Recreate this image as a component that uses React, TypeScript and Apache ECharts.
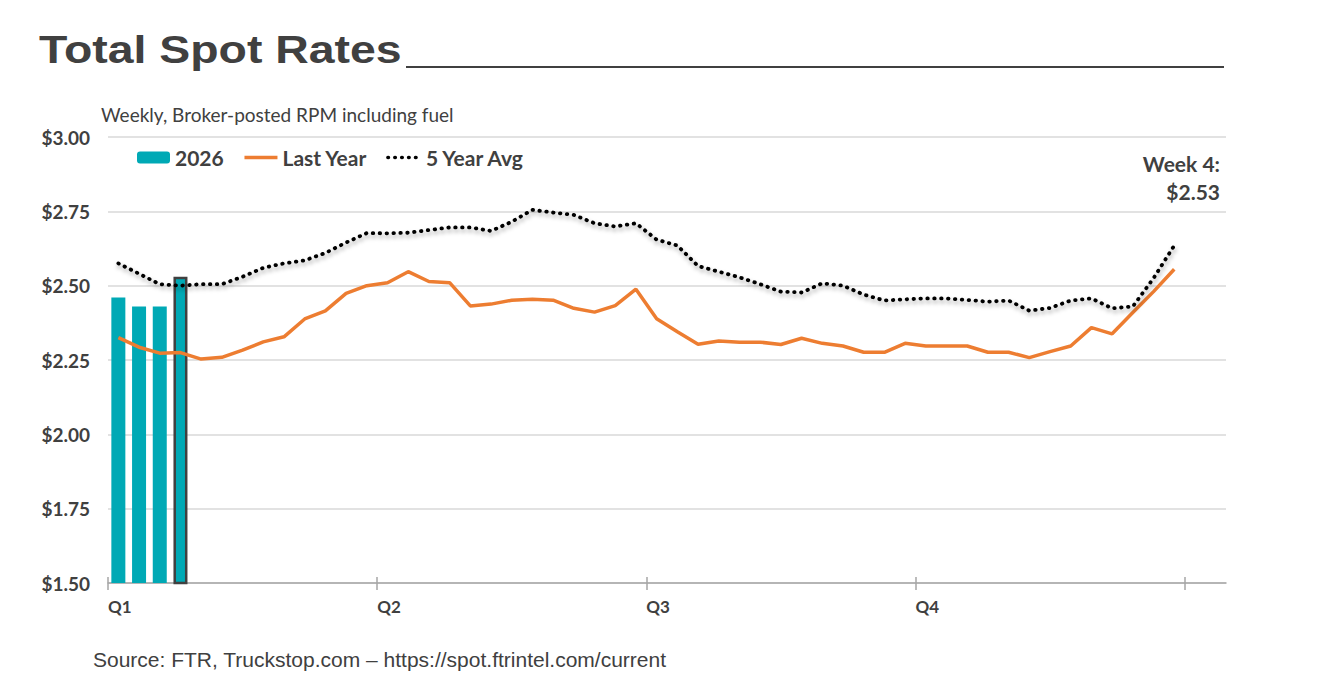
import React, { useEffect, useRef } from "react";
import * as echarts from "echarts";

// ---- data ----
const quarterLabels = ["Q1", "Q2", "Q3", "Q4"];
const quarterStarts = [0, 13, 26, 39];
const tickWeeks = [0, 13, 26, 39, 52];
const totalSlots = 54;

const current2026 = [2.46, 2.43, 2.43, 2.53];

const lastYear = [
  2.325, 2.293, 2.273, 2.275, 2.253, 2.259, 2.283, 2.311, 2.328, 2.388,
  2.415, 2.474, 2.5, 2.51, 2.547, 2.514, 2.51, 2.432, 2.438, 2.451,
  2.454, 2.451, 2.424, 2.411, 2.433, 2.488, 2.389, 2.345, 2.303, 2.314,
  2.31, 2.31, 2.302, 2.323, 2.306, 2.297, 2.276, 2.276, 2.306, 2.297,
  2.297, 2.297, 2.276, 2.276, 2.258, 2.278, 2.297, 2.359, 2.338, 2.41,
  2.48, 2.555,
];

const fiveYearAvg = [
  2.575, 2.54, 2.505, 2.5, 2.505, 2.505, 2.53, 2.56, 2.575, 2.585,
  2.61, 2.645, 2.677, 2.676, 2.678, 2.687, 2.696, 2.696, 2.684, 2.715,
  2.755, 2.746, 2.738, 2.71, 2.699, 2.71, 2.655, 2.635, 2.566, 2.547,
  2.528, 2.505, 2.48, 2.477, 2.508, 2.5, 2.47, 2.45, 2.454, 2.457,
  2.457, 2.452, 2.446, 2.45, 2.416, 2.425, 2.45, 2.457, 2.424, 2.43,
  2.525, 2.635,
];

const TEXT = "#404040";
const AXIS = "#a6a6a6";
const TEAL = "#00A9B5";
const ORANGE = "#ED7D31";
const CAL = "Lato, 'Noto Sans', sans-serif";
const DOTS = [0.5, 6.4];

const toPoints = (arr: number[]) => arr.map((v, i) => [i + 0.5, v]);

export default function App() {
  const ref = useRef<HTMLDivElement>(null);

  useEffect(() => {
    if (!ref.current) return;
    const chart = echarts.init(ref.current, undefined, { renderer: "svg" });
    const lastIdx = current2026.length - 1;

    chart.setOption({
      animation: false,
      backgroundColor: "#ffffff",
      grid: { left: 108, top: 137, width: 1118, height: 446, containLabel: false },
      legend: {
        left: 137,
        top: 147,
        padding: 0,
        itemWidth: 33,
        itemHeight: 12,
        itemGap: 19,
        data: [
          { name: "2026" },
          {
            name: "Last Year",
            itemStyle: { opacity: 0 },
            lineStyle: { color: ORANGE, width: 3.5, shadowBlur: 0, shadowColor: "transparent" },
          },
          {
            name: "5 Year Avg",
            itemStyle: { opacity: 0 },
            lineStyle: {
              color: "#000000",
              width: 3.6,
              type: DOTS,
              cap: "round",
              shadowBlur: 0,
              shadowOffsetX: 0,
              shadowOffsetY: 0,
              shadowColor: "transparent",
            },
          },
        ],
        textStyle: { color: TEXT, fontWeight: "bold", fontSize: 21, fontFamily: CAL },
      },
      xAxis: [
        {
          type: "value",
          min: 0,
          max: totalSlots,
          axisLine: { show: true, lineStyle: { color: AXIS, width: 1.5 } },
          axisTick: { show: true, customValues: tickWeeks, length: 7, lineStyle: { color: AXIS, width: 1.5 } },
          axisLabel: {
            customValues: quarterStarts,
            formatter: (v: number) => quarterLabels[quarterStarts.indexOf(v)] ?? "",
            align: "left",
            margin: 15,
            color: TEXT,
            fontWeight: "bold",
            fontSize: 17,
            fontFamily: CAL,
          },
          splitLine: { show: false },
        },
        {
          type: "value",
          min: 0,
          max: totalSlots,
          position: "top",
          offset: -446,
          axisLine: { show: false },
          axisTick: { show: true, customValues: tickWeeks, length: 6, lineStyle: { color: AXIS, width: 1.5 } },
          axisLabel: { show: false },
          splitLine: { show: false },
        },
      ],
      yAxis: {
        type: "value",
        min: 1.5,
        max: 3,
        interval: 0.25,
        axisLine: { show: false },
        axisTick: { show: false },
        axisLabel: {
          formatter: (v: number) => "$" + v.toFixed(2),
          color: TEXT,
          fontWeight: "bold",
          fontSize: 19,
          fontFamily: CAL,
          margin: 18,
        },
        splitLine: { lineStyle: { color: "#d9d9d9", width: 1.5 } },
      },
      series: [
        {
          name: "2026",
          type: "bar",
          xAxisIndex: 0,
          barWidth: 14,
          itemStyle: { color: TEAL },
          z: 1,
          data: current2026.map((v, i) => ({
            value: [i + 0.5, v],
            itemStyle: i === lastIdx ? { color: TEAL, borderColor: TEXT, borderWidth: 2.5 } : undefined,
          })),
        },
        {
          name: "Last Year",
          type: "line",
          xAxisIndex: 0,
          symbol: "none",
          z: 3,
          itemStyle: { color: ORANGE },
          lineStyle: { color: ORANGE, width: 3.5 },
          data: toPoints(lastYear),
        },
        {
          name: "5 Year Avg",
          type: "line",
          xAxisIndex: 0,
          symbol: "none",
          z: 4,
          itemStyle: { color: "#000000" },
          lineStyle: {
            color: "#000000",
            width: 3.8,
            type: DOTS,
            cap: "round",
            shadowColor: "rgba(0,0,0,0.35)",
            shadowBlur: 4,
            shadowOffsetX: 1,
            shadowOffsetY: 3,
          },
          data: toPoints(fiveYearAvg),
        },
      ],
      graphic: [
        {
          type: "text",
          x: 39,
          y: 49,
          scaleX: 1.19,
          style: {
            text: "Total Spot Rates",
            fill: TEXT,
            font: "bold 39px 'Liberation Sans', Arial, sans-serif",
            textAlign: "left",
            textVerticalAlign: "middle",
          },
        },
        {
          type: "line",
          shape: { x1: 406, y1: 67, x2: 1224, y2: 67 },
          style: { stroke: TEXT, lineWidth: 2 },
        },
        {
          type: "text",
          x: 101,
          y: 114,
          style: {
            text: "Weekly, Broker-posted RPM including fuel",
            fill: TEXT,
            font: `19px ${CAL}`,
            textAlign: "left",
            textVerticalAlign: "middle",
          },
        },
        {
          type: "text",
          x: 1220,
          y: 163,
          style: {
            text: `Week ${current2026.length}:`,
            fill: TEXT,
            font: `bold 21px ${CAL}`,
            textAlign: "right",
            textVerticalAlign: "middle",
          },
        },
        {
          type: "text",
          x: 1220,
          y: 191,
          style: {
            text: "$" + current2026[lastIdx].toFixed(2),
            fill: TEXT,
            font: `bold 21px ${CAL}`,
            textAlign: "right",
            textVerticalAlign: "middle",
          },
        },
        {
          type: "text",
          x: 93,
          y: 659,
          style: {
            text: "Source: FTR, Truckstop.com \u2013 https://spot.ftrintel.com/current",
            fill: TEXT,
            font: "21px 'Liberation Sans', Arial, sans-serif",
            textAlign: "left",
            textVerticalAlign: "middle",
          },
        },
      ],
    });

    return () => chart.dispose();
  }, []);

  return (
    <div
      ref={ref}
      style={{ position: "fixed", left: 0, top: 0, width: 1321, height: 696, background: "#fff" }}
    />
  );
}
